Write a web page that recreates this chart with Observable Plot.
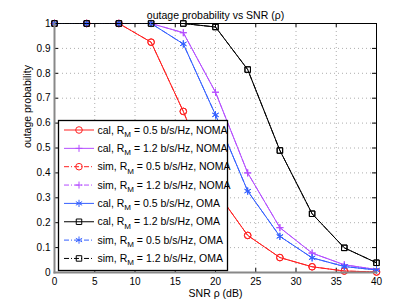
<!DOCTYPE html>
<html>
<head>
<meta charset="utf-8">
<script src="https://cdn.jsdelivr.net/npm/d3@7"></script>
<script src="https://cdn.jsdelivr.net/npm/@observablehq/plot@0.6"></script>
<style>
  html, body { margin: 0; padding: 0; background: #fff; }
  #wrap { position: relative; width: 415px; height: 307px; font-family: "Liberation Sans", Arial, sans-serif; }
  #legend { position: absolute; left: 0; top: 0; }
</style>
</head>
<body>
<div id="wrap"></div>
<script>
// ---- data ----
const snr = [0, 4, 8, 12, 16, 20, 24, 28, 32, 36, 40];
const calNoma05 = [1, 1, 1, 0.925, 0.647, 0.33, 0.149, 0.06, 0.023, 0.006, 0.002];
const calNoma12 = [1, 1, 1, 1, 0.963, 0.724, 0.40, 0.18, 0.078, 0.031, 0.012];
const simNoma05 = [1, 1, 1, 0.925, 0.647, 0.33, 0.149, 0.06, 0.023, 0.006, 0.002];
const simNoma12 = [1, 1, 1, 1, 0.963, 0.724, 0.40, 0.18, 0.078, 0.031, 0.012];
const calOma05 = [1, 1, 1, 1, 0.918, 0.633, 0.327, 0.145, 0.059, 0.024, 0.010];
const calOma12 = [1, 1, 1, 1, 1, 0.986, 0.815, 0.49, 0.236, 0.099, 0.039];
const simOma05 = [1, 1, 1, 1, 0.918, 0.633, 0.327, 0.145, 0.059, 0.024, 0.010];
const simOma12 = [1, 1, 1, 1, 1, 0.986, 0.815, 0.49, 0.236, 0.099, 0.039];
const xTicks = [0, 5, 10, 15, 20, 25, 30, 35, 40];
const yTicks = [0, 0.1, 0.2, 0.3, 0.4, 0.5, 0.6, 0.7, 0.8, 0.9, 1];
const titleText = "outage probability vs SNR (ρ)";
const xLabel = "SNR ρ (dB)";
const yLabel = "outage probability";

const series = [
  {kind: "cal", rate: "0.5", scheme: "NOMA", values: calNoma05, color: "#ff2020", symbol: "circle", dash: null},
  {kind: "cal", rate: "1.2", scheme: "NOMA", values: calNoma12, color: "#b44dff", symbol: "plus", dash: null},
  {kind: "sim", rate: "0.5", scheme: "NOMA", values: simNoma05, color: "#ff2020", symbol: "circle", dash: "5,2,1,2"},
  {kind: "sim", rate: "1.2", scheme: "NOMA", values: simNoma12, color: "#b44dff", symbol: "plus", dash: "5,2,1,2"},
  {kind: "cal", rate: "0.5", scheme: "OMA", values: calOma05, color: "#3560ff", symbol: "asterisk", dash: null},
  {kind: "cal", rate: "1.2", scheme: "OMA", values: calOma12, color: "#000000", symbol: "square", dash: null},
  {kind: "sim", rate: "0.5", scheme: "OMA", values: simOma05, color: "#3560ff", symbol: "asterisk", dash: "5,2,1,2"},
  {kind: "sim", rate: "1.2", scheme: "OMA", values: simOma12, color: "#000000", symbol: "square", dash: "5,2,1,2"}
];
const symR = {circle: 3.3, plus: 2.4, asterisk: 3.4, square: 3.1};

const W = 415, H = 307, mL = 54, mR = 39, mT = 23, mB = 35;
const fw = W - mL - mR, fh = H - mT - mB;

const marks = [
  Plot.gridX(xTicks, {stroke: "#999", strokeOpacity: 1, strokeDasharray: "1,3", strokeWidth: 0.8}),
  Plot.gridY(yTicks, {stroke: "#999", strokeOpacity: 1, strokeDasharray: "1,3", strokeWidth: 0.8}),
  // inward ticks
  Plot.ruleX(xTicks, {x: d => d, insetTop: fh - 4, stroke: "#000"}),
  Plot.ruleX(xTicks, {x: d => d, insetBottom: fh - 4, stroke: "#000"}),
  Plot.ruleY(yTicks, {y: d => d, insetRight: fw - 4, stroke: "#000"}),
  Plot.ruleY(yTicks, {y: d => d, insetLeft: fw - 4, stroke: "#000"}),
  Plot.axisX(xTicks, {tickSize: 0, tickPadding: 5, label: null, fontSize: 10, tickFormat: d => String(d)}),
  Plot.axisY(yTicks, {tickSize: 0, tickPadding: 4, label: null, fontSize: 10, tickFormat: d => String(+d.toFixed(1))}),
  Plot.frame({anchor: "top", stroke: "#000"}),
  Plot.frame({anchor: "right", stroke: "#000"})
];
for (const s of series) {
  const rows = snr.map((x, i) => ({x, y: s.values[i]}));
  marks.push(Plot.line(rows, {x: "x", y: "y", stroke: s.color, strokeWidth: 1, strokeDasharray: s.dash}));
  marks.push(Plot.dot(rows, {x: "x", y: "y", stroke: s.color, fill: "none", symbol: s.symbol, r: symR[s.symbol], strokeWidth: 1}));
}
marks.push(
  Plot.frame({anchor: "left", stroke: "#888", strokeWidth: 2}),
  Plot.frame({anchor: "bottom", stroke: "#888", strokeWidth: 2}),
  Plot.text([titleText], {text: d => d, frameAnchor: "top", dy: -12, fontSize: 10.5}),
  Plot.text([xLabel], {text: d => d, frameAnchor: "bottom", dy: 24, fontSize: 10.5}),
  Plot.text([yLabel], {text: d => d, frameAnchor: "left", dx: -27, rotate: -90, fontSize: 10.5})
);

const chart = Plot.plot({
  width: W, height: H,
  marginLeft: mL, marginRight: mR, marginTop: mT, marginBottom: mB,
  x: {domain: [0, 40]},
  y: {domain: [0, 1]},
  style: {fontFamily: "Liberation Sans, Arial, sans-serif", fontSize: "10px", background: "#fff", color: "#000"},
  marks
});
const wrap = document.getElementById("wrap");
wrap.appendChild(chart);

// ---- legend ----
const lg = d3.select(wrap).append("svg").attr("id", "legend").attr("width", W).attr("height", H);
const box = {x: 58, y: 120, w: 169, h: 150};
lg.append("rect").attr("x", box.x + 0.5).attr("y", box.y + 0.5).attr("width", box.w).attr("height", box.h)
  .attr("fill", "#fff").attr("stroke", "#000").attr("stroke-width", 1.3);
const symMap = {circle: d3.symbolCircle, plus: d3.symbolPlus, asterisk: d3.symbolAsterisk, square: d3.symbolSquare};
series.forEach((s, i) => {
  const cy = 130 + i * 18.35;
  const g = lg.append("g");
  g.append("line").attr("x1", 64).attr("x2", 94).attr("y1", cy).attr("y2", cy)
    .attr("stroke", s.color).attr("stroke-width", 1).attr("stroke-dasharray", s.dash);
  const r = symR[s.symbol];
  g.append("path").attr("d", d3.symbol(symMap[s.symbol], Math.PI * r * r)())
    .attr("transform", `translate(79,${cy})`).attr("fill", "none").attr("stroke", s.color).attr("stroke-width", 1);
  const t = g.append("text").attr("x", 97.5).attr("y", cy + 3.5)
    .attr("font-family", "Liberation Sans, Arial, sans-serif").attr("font-size", 10.5).attr("fill", "#000");
  t.append("tspan").text(`${s.kind}, R`);
  t.append("tspan").attr("dy", 3.5).attr("font-size", 8).text("M");
  t.append("tspan").attr("dy", -3.5).text(` = ${s.rate} b/s/Hz, ${s.scheme}`);
});
</script>
</body>
</html>
